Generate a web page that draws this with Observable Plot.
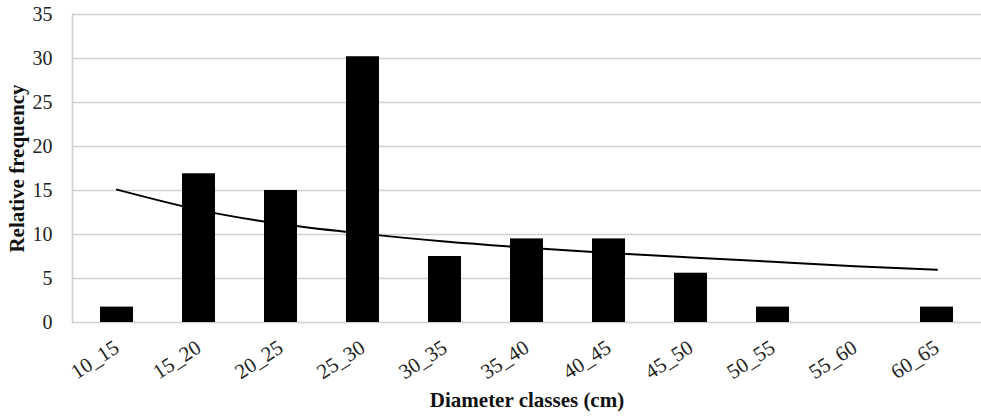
<!DOCTYPE html>
<html><head><meta charset="utf-8">
<script src="https://cdn.jsdelivr.net/npm/d3@7"></script>
<script src="https://cdn.jsdelivr.net/npm/@observablehq/plot@0.6"></script>
<style>
body{margin:0;background:#fff}
g[aria-label="x-axis label"], g[aria-label="y-axis label"]{font-weight:bold;font-size:21px !important;fill:#111}
g[aria-label="y-axis tick label"]{font-size:20px !important}
g[aria-label="x-axis tick label"]{font-size:21px !important}
</style>
</head><body><div id="chart"></div>
<script>
const classes = ["10_15","15_20","20_25","25_30","30_35","35_40","40_45","45_50","50_55","55_60","60_65"];
const frequency = [1.75,16.9,15.0,30.2,7.5,9.5,9.5,5.6,1.75,0,1.75];
const trend = [15.1,12.8,11.2,10.1,9.2,8.5,7.9,7.4,6.9,6.4,6.0];
const yTicks = [0,5,10,15,20,25,30,35];

const data = classes.map((c,i)=>({cls:c, freq:frequency[i], trend:trend[i]}));

const chart = Plot.plot({
  width:981, height:416,
  marginLeft:72, marginRight:0, marginTop:14, marginBottom:94,
  style:{fontFamily:'"Liberation Serif","Times New Roman",serif', background:"#fff", color:"#222", overflow:"visible"},
  x:{domain:classes, paddingInner:0.6, paddingOuter:0.3, label:null},
  y:{domain:[0,35], label:null},
  marks:[
    Plot.gridY(yTicks,{stroke:"#cfcfcf", strokeOpacity:1, strokeWidth:1.6}),
    Plot.frame({anchor:"left", stroke:"#cfcfcf", strokeWidth:1.6}),
    Plot.barY(data,{x:"cls", y:"freq", fill:"#000"}),
    Plot.line(data,{x:"cls", y:"trend", stroke:"#000", strokeWidth:2, curve:"natural"}),
    Plot.axisY(yTicks,{tickSize:0, tickPadding:20, fontSize:20, label:"Relative frequency", labelArrow:"none", labelAnchor:"center", labelOffset:63}),
    Plot.axisX({tickSize:0, tickPadding:23, tickRotate:-33, fontSize:21, label:"Diameter classes (cm)", labelArrow:"none", labelAnchor:"center", labelOffset:84})
  ]
});
document.getElementById("chart").append(chart);
</script>
</body></html>
